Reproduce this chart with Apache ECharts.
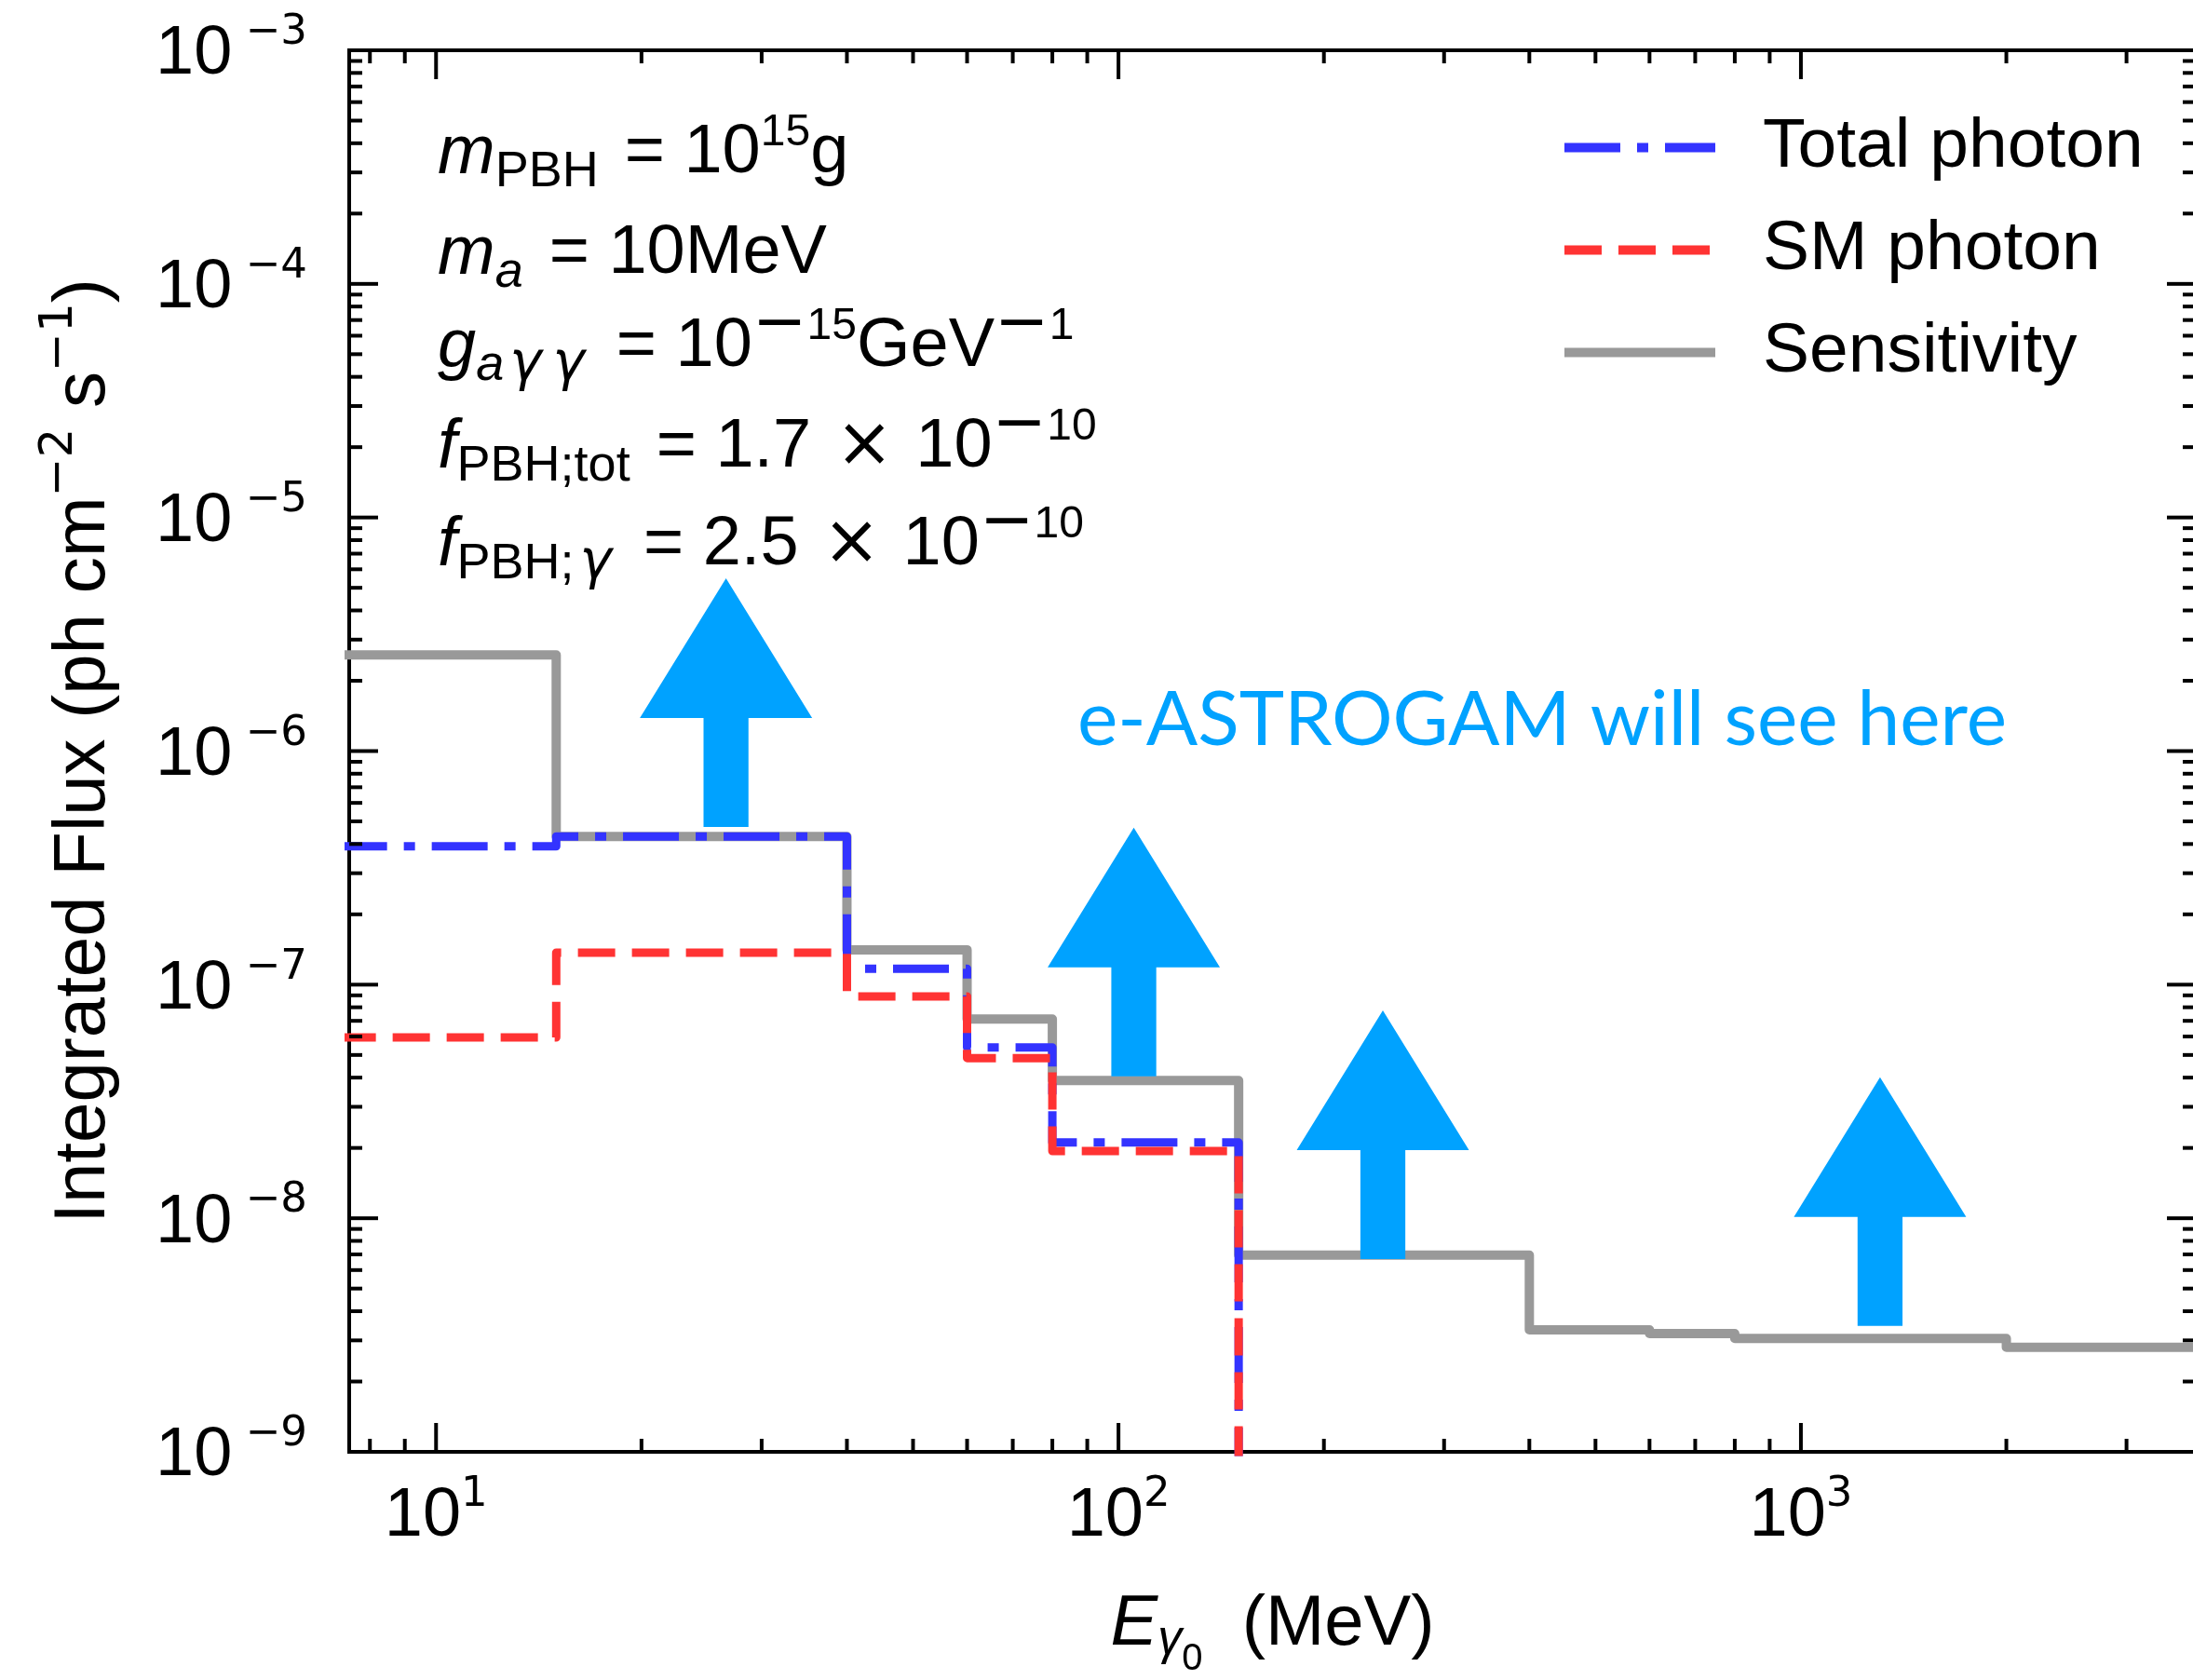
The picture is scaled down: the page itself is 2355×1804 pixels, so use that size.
<!DOCTYPE html>
<html><head><meta charset="utf-8">
<script src="https://cdn.jsdelivr.net/npm/echarts@6/dist/echarts.min.js"></script>
<style>html,body{margin:0;padding:0;background:#fff}#c{width:2355px;height:1804px}</style>
</head><body><div id="c"></div>
<script>
// ---------------- data ----------------
const sensEdges   = [5, 15, 40, 60, 80, 150, 400, 600, 800, 2000, 5000];
const sensValues  = [2.58e-6, 4.31e-7, 1.41e-7, 7.13e-8, 3.89e-8, 6.95e-9, 3.33e-9, 3.21e-9, 3.06e-9, 2.80e-9];
const photonEdges = [5, 15, 40, 60, 80, 150];
const totalValues = [3.91e-7, 4.31e-7, 1.17e-7, 5.39e-8, 2.11e-8];
const smValues    = [5.94e-8, 1.37e-7, 8.9e-8, 4.85e-8, 1.94e-8];
const offScale    = 1e-12;           // flux drops to zero above the last edge
const arrowX = [26.6, 105.3, 244, 1306];
const arrowY = [1.61e-6, 1.38e-7, 2.28e-8, 1.18e-8];
const xMin = 7.46, xMax = 3790, yMin = 1e-9, yMax = 1e-3;
const xMajorTicks = [10, 100, 1000];
const xMinorTicks = [8, 9, 20, 30, 40, 50, 60, 70, 80, 90, 200, 300, 400, 500, 600, 700, 800, 900, 2000, 3000];
const yMajorTicks = [1e-9, 1e-8, 1e-7, 1e-6, 1e-5, 1e-4, 1e-3];
const yMinorMult  = [2, 3, 4, 5, 6, 7, 8, 9];
const legendNames = ['Total photon', 'SM photon', 'Sensitivity'];
const annotationLines = [
  '{m|m}{sb|PBH}{eq|= 10}{sp|15}{r|g}',
  '{m|m}{si|a}{eq|= 10MeV}',
  '{m|g}{si|a}{sg|\u03b3}{sg|\u03b3}{eq|= 10}{mn|\u2212}{sp|15}{r|GeV}{mn|\u2212}{sp|1}',
  '{m|f}{sb|PBH;tot}{eq|= 1.7}{x|\u00d7}{r|10}{mn|\u2212}{sp|10}',
  '{m|f}{sb|PBH;}{sg|\u03b3}{eq|= 2.5}{x|\u00d7}{r|10}{mn|\u2212}{sp|10}'
];

// ---------------- helpers ----------------
function stepData(edges, vals, tail) {
  const d = vals.map((v, i) => [edges[i], v]);
  d.push([edges[vals.length], tail]);
  return d;
}
const FONT = '"Liberation Sans", Arial, Helvetica, sans-serif';
const SUPFONT = '"DejaVu Sans", "Liberation Sans", sans-serif';
const tickItems = [];
xMajorTicks.forEach(v => tickItems.push([v, 1e-6, 0, 1]));
xMinorTicks.forEach(v => tickItems.push([v, 1e-6, 0, 0]));
yMajorTicks.forEach(v => tickItems.push([100, v, 1, 1]));
yMajorTicks.slice(0, -1).forEach(d => yMinorMult.forEach(m => tickItems.push([100, d * m, 1, 0])));

function powLabel(v) {
  const e = Math.round(Math.log10(v));
  if (Math.abs(Math.log10(v) - e) > 1e-6) return '';
  return '{b|10}{s|' + (e < 0 ? ' \u2212' + (-e) : e) + '}';
}
const labelRich = {
  b: {fontSize: 74, lineHeight: 74, fontFamily: FONT, color: '#000', verticalAlign: 'bottom'},
  s: {fontSize: 45, lineHeight: 45, fontFamily: SUPFONT, color: '#000', verticalAlign: 'bottom', padding: [0, 0, 38, 0]}
};
const mainTok = {fontSize: 74, lineHeight: 74, fontFamily: FONT, fill: '#000', verticalAlign: 'bottom'};
const annRich = {
  m: Object.assign({}, mainTok, {fontStyle: 'italic', padding: [11, 0, 20, 0]}),
  r: Object.assign({}, mainTok, {padding: [11, 0, 20, 0]}),
  eq: Object.assign({}, mainTok, {padding: [11, 0, 20, 28]}),
  x: Object.assign({}, mainTok, {fontFamily: SUPFONT, padding: [11, 24, 20, 26]}),
  sb: {fontSize: 54, lineHeight: 54, fontFamily: FONT, fill: '#000', verticalAlign: 'bottom', padding: [0, 0, 10, 0]},
  si: {fontSize: 54, lineHeight: 54, fontStyle: 'italic', fontFamily: FONT, fill: '#000', verticalAlign: 'bottom', padding: [0, 0, 10, 0]},
  sg: {fontSize: 58, lineHeight: 58, fontStyle: 'italic', fontFamily: SUPFONT, fill: '#000', verticalAlign: 'bottom', padding: [0, 6, 8, 6]},
  sp: {fontSize: 48, lineHeight: 48, fontFamily: FONT, fill: '#000', verticalAlign: 'bottom', padding: [0, 0, 55, 0]},
  mn: {fontSize: 70, lineHeight: 70, fontFamily: SUPFONT, fill: '#000', verticalAlign: 'bottom', padding: [0, 0, 45, 0]}
};
const annTops = [148, 256, 356, 464, 569];

const chart = echarts.init(document.getElementById('c'), null, {renderer: 'canvas'});
chart.setOption({
  backgroundColor: '#fff',
  animation: false,
  grid: {left: 375, top: 54, right: -3, bottom: 245, show: true, borderColor: '#000', borderWidth: 4,
         backgroundColor: 'transparent', containLabel: false, outerBoundsMode: 'none'},
  legend: {
    data: legendNames, orient: 'vertical', left: 1670, top: 116, itemWidth: 162, itemHeight: 70, itemGap: 35,
    selectedMode: false,
    itemStyle: {opacity: 0, color: 'rgba(0,0,0,0)', borderWidth: 0},
    textStyle: {fontSize: 75, lineHeight: 70, fontFamily: FONT, color: '#000', padding: [0, 0, 0, 46]},
    lineStyle: {width: 10}
  },
  xAxis: {
    type: 'log', logBase: 10, min: xMin, max: xMax,
    axisLine: {show: false}, axisTick: {show: false}, splitLine: {show: false}, minorTick: {show: false},
    axisLabel: {formatter: powLabel, rich: labelRich, margin: 33, showMinLabel: false, showMaxLabel: false},
    name: '{i|E}{g|\u03b3}{z|0}{t|  (MeV)}', nameLocation: 'middle', nameGap: 174, nameMoveOverlap: false,
    nameTextStyle: {rich: {
      i: {fontSize: 76, lineHeight: 76, fontStyle: 'italic', fontFamily: FONT, color: '#000', verticalAlign: 'bottom', padding: [0, 0, 26, 0]},
      t: {fontSize: 76, lineHeight: 76, fontFamily: FONT, color: '#000', verticalAlign: 'bottom', padding: [0, 0, 26, 0]},
      g: {fontSize: 52, lineHeight: 52, fontStyle: 'italic', fontFamily: FONT, color: '#000', verticalAlign: 'bottom', padding: [0, 0, 21, 0]},
      z: {fontSize: 40, lineHeight: 40, fontFamily: FONT, color: '#000', verticalAlign: 'bottom', padding: [0, 0, 7, 0]}
    }}
  },
  yAxis: {
    type: 'log', logBase: 10, min: yMin, max: yMax,
    axisLine: {show: false}, axisTick: {show: false}, splitLine: {show: false}, minorTick: {show: false},
    axisLabel: {formatter: powLabel, rich: labelRich, margin: 45, padding: [10, 0, 0, 0]},
    name: '{a|Integrated Flux (ph cm}{s|\u22122}{a| s}{s|\u22121}{a|)}', nameLocation: 'middle', nameGap: 246, nameMoveOverlap: false,
    nameTextStyle: {rich: {
      a: {fontSize: 78, lineHeight: 78, fontFamily: FONT, color: '#000', verticalAlign: 'bottom'},
      s: {fontSize: 50, lineHeight: 50, fontFamily: SUPFONT, color: '#000', verticalAlign: 'bottom', padding: [0, 0, 40, 0]}
    }}
  },
  graphic: annotationLines.map((t, i) => ({
    type: 'text', z: 10, silent: true,
    style: {x: 470, y: annTops[i], text: t, rich: annRich, verticalAlign: 'top', align: 'left'}
  })).concat([
    {type: 'text', left: 1157, top: 733, z: 10, silent: true, style: {
      text: 'e-ASTROGAM will see here', fontSize: 82, fontFamily: 'Lato, "Open Sans", sans-serif', fill: '#00A2FF'
    }}
  ]),
  series: [
    {name: 'Sensitivity', type: 'line', step: 'end', symbol: 'none', z: 2, silent: true,
     lineStyle: {color: '#999999', width: 10, type: 'solid', join: 'round'}, itemStyle: {color: '#999999'},
     data: stepData(sensEdges, sensValues, sensValues[sensValues.length - 1])},
    {name: 'Total photon', type: 'line', step: 'end', symbol: 'none', z: 3, silent: true,
     lineStyle: {color: '#3333FF', width: 9, type: [60, 18, 12, 18], join: 'round'}, itemStyle: {color: '#3333FF'},
     data: stepData(photonEdges, totalValues, offScale)},
    {name: 'SM photon', type: 'line', step: 'end', symbol: 'none', z: 4, silent: true,
     lineStyle: {color: '#FF3333', width: 9, type: [40, 18], join: 'round'}, itemStyle: {color: '#FF3333'},
     data: stepData(photonEdges, smValues, offScale)},
    {name: 'arrows', type: 'scatter', z: 6, silent: true,
     symbol: 'path://M92 0 L184 150 L116 150 L116 267 L68 267 L68 150 L0 150 Z', symbolSize: [185, 267],
     itemStyle: {color: '#00A2FF', opacity: 1},
     data: arrowX.map((x, i) => [x, arrowY[i]])},
    {name: 'ticks', type: 'custom', z: 7, silent: true, clip: false,
     renderItem: function (params, api) {
       const cs = params.coordSys;
       const kind = api.value(2), major = api.value(3);
       const len = major ? 31 : 14;
       const style = {stroke: '#000', lineWidth: 4};
       const p = api.coord([api.value(0), api.value(1)]);
       if (kind === 0) {
         const bx = p[0], b = cs.y + cs.height, t = cs.y;
         return {type: 'group', children: [
           {type: 'line', shape: {x1: bx, y1: b, x2: bx, y2: b - len}, style: style},
           {type: 'line', shape: {x1: bx, y1: t, x2: bx, y2: t + len}, style: style}]};
       }
       const by = p[1], l = cs.x, r = cs.x + cs.width;
       return {type: 'group', children: [
         {type: 'line', shape: {x1: l, y1: by, x2: l + len, y2: by}, style: style},
         {type: 'line', shape: {x1: r, y1: by, x2: r - len, y2: by}, style: style}]};
     },
     data: tickItems}
  ]
});
</script></body></html>
